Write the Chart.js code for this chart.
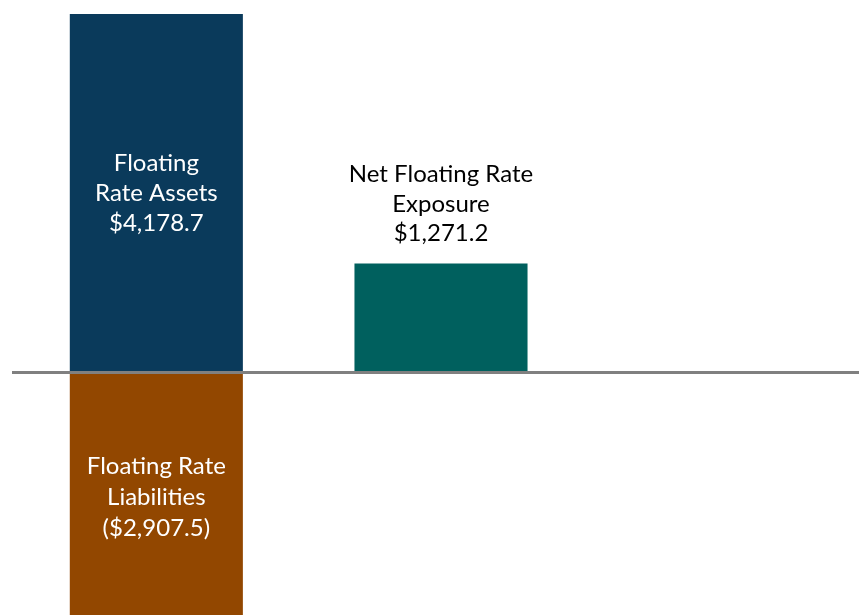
<!DOCTYPE html>
<html>
<head>
<meta charset="utf-8">
<script src="https://cdn.jsdelivr.net/npm/chart.js@4.4.1/dist/chart.umd.min.js"></script>
<style>
    html, body { margin: 0; padding: 0; background: #fff; overflow: hidden; }
    #wrap { position: absolute; left: 0; top: 0; width: 870px; height: 615px; }
</style>
</head>
<body>
<div id="wrap"><canvas id="myChart" width="870" height="615"></canvas></div>
<script>
// values in $ millions
const categories = ['Gross', 'Net', ''];
const assets = [4178.7, null, null];
const liabilities = [-2907.5, null, null];
const net = [null, 1271.2, null];

const assetLabel = ['Floating', 'Rate Assets', '$4,178.7'];
const liabLabel = ['Floating Rate', 'Liabilities', '($2,907.5)'];
const netLabel = ['Net Floating Rate', 'Exposure', '$1,271.2'];

const FONT = '24px Lato, "Open Sans", sans-serif';

// zero line + bar captions
const captions = {
    id: 'captions',
    afterDatasetsDraw(chart) {
        const ctx = chart.ctx;
        const area = chart.chartArea;
        const y0 = chart.scales.y.getPixelForValue(0);
        ctx.save();
        ctx.strokeStyle = '#808080';
        ctx.lineWidth = 3;
        ctx.beginPath();
        ctx.moveTo(area.left - 2, y0);
        ctx.lineTo(area.right, y0);
        ctx.stroke();

        ctx.font = FONT;
        ctx.textAlign = 'center';
        ctx.textBaseline = 'middle';
        const lh = 30;

        const a = chart.getDatasetMeta(0).data[0];
        const aMid = (a.y + a.base) / 2;
        ctx.fillStyle = '#ffffff';
        assetLabel.forEach((t, i) => ctx.fillText(t, a.x, aMid + (i - 1) * lh));

        const l = chart.getDatasetMeta(1).data[0];
        const lMid = (l.y + l.base) / 2;
        liabLabel.forEach((t, i) => ctx.fillText(t, l.x, lMid + (i - 1) * 31));

        const n = chart.getDatasetMeta(2).data[1];
        ctx.fillStyle = '#000000';
        netLabel.forEach((t, i) => ctx.fillText(t, n.x, n.y - 30 - (2 - i) * 29.5));
        ctx.restore();
    }
};

new Chart(document.getElementById('myChart'), {
    type: 'bar',
    data: {
        labels: categories,
        datasets: [
            { label: 'Floating Rate Assets', data: assets, backgroundColor: '#0a3a5b' },
            { label: 'Floating Rate Liabilities', data: liabilities, backgroundColor: '#924700' },
            { label: 'Net Floating Rate Exposure', data: net, backgroundColor: '#00605e' }
        ]
    },
    options: {
        responsive: false,
        animation: false,
        layout: { padding: { left: 14, right: 2, top: 14, bottom: 0 } },
        datasets: { bar: { barPercentage: 0.608, categoryPercentage: 1, skipNull: true } },
        plugins: { legend: { display: false }, tooltip: { enabled: false } },
        scales: {
            x: { display: false, stacked: true },
            y: { display: false, stacked: true, min: -2827, max: 4178.7 }
        }
    },
    plugins: [captions]
});
</script>
</body>
</html>
